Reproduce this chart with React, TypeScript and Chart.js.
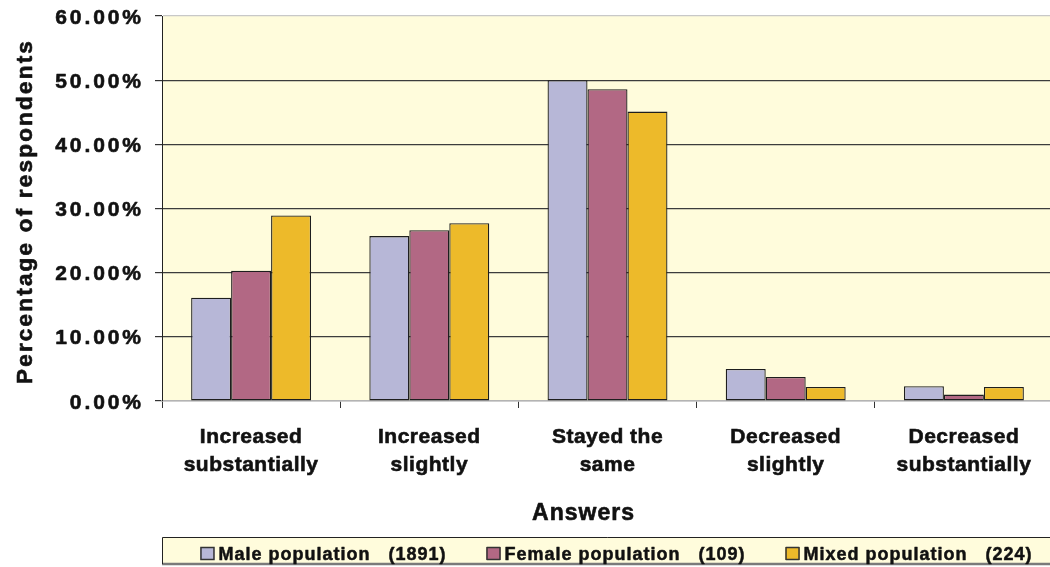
import React, { useEffect, useRef } from "react";
import { Chart, registerables } from "chart.js";

Chart.register(...registerables);

const categories: string[][] = [
  ["Increased", "substantially"],
  ["Increased", "slightly"],
  ["Stayed the", "same"],
  ["Decreased", "slightly"],
  ["Decreased", "substantially"],
];
const seriesLabels = [
  "Male population   (1891)",
  "Female population   (109)",
  "Mixed population   (224)",
];
const maleValues = [16.1, 25.7, 50.0, 5.0, 2.3];
const femaleValues = [20.3, 26.6, 48.6, 3.75, 1.0];
const mixedValues = [28.9, 27.7, 45.1, 2.2, 2.2];
const seriesColors = ["#B7B7D7", "#B26884", "#EDBA2A"];
const yTicks = [0, 10, 20, 30, 40, 50, 60];
const yTitle = "Percentage of respondents";
const xTitle = "Answers";

const FONT = "'Liberation Sans', Arial, sans-serif";
const PLOT_BG = "#FFFCDC";
const TEXT = "#111";

function heavyText(ctx: CanvasRenderingContext2D, s: string, x: number, y: number, w = 0.6) {
  ctx.lineJoin = "round";
  ctx.strokeStyle = TEXT;
  ctx.lineWidth = w;
  ctx.strokeText(s, x, y);
  ctx.fillText(s, x, y);
}

const customPlugin = {
  id: "customDecor",
  beforeDraw(chart: any) {
    const { ctx, chartArea } = chart;
    ctx.save();
    ctx.fillStyle = PLOT_BG;
    ctx.fillRect(chartArea.left, chartArea.top, chartArea.right - chartArea.left, chartArea.bottom - chartArea.top);
    ctx.restore();
    try {
      (ctx as any).letterSpacing = "0.5px";
    } catch (e) {}
  },
  afterDraw(chart: any) {
    const { ctx, chartArea } = chart;
    const yScale = chart.scales.y;
    // y tick labels
    ctx.save();
    (ctx as any).letterSpacing = "2.9px";
    ctx.font = `bold 21px ${FONT}`;
    ctx.fillStyle = TEXT;
    ctx.textAlign = "right";
    ctx.textBaseline = "alphabetic";
    yTicks.forEach((v) => {
      const py = yScale.getPixelForValue(v);
      heavyText(ctx, `${v.toFixed(2)}%`, chartArea.left - 21 + 2.9, py + 7.5);
    });
    ctx.restore();

    // y title
    ctx.save();
    (ctx as any).letterSpacing = "2.2px";
    ctx.font = `bold 22.5px ${FONT}`;
    ctx.fillStyle = TEXT;
    ctx.translate(31.5, (chartArea.top + chartArea.bottom) / 2 + 3);
    ctx.rotate(-Math.PI / 2);
    ctx.textAlign = "center";
    ctx.textBaseline = "alphabetic";
    heavyText(ctx, yTitle, 0, 0);
    ctx.restore();

    // x title
    ctx.save();
    (ctx as any).letterSpacing = "1px";
    ctx.font = `bold 23px ${FONT}`;
    ctx.fillStyle = TEXT;
    ctx.textAlign = "center";
    ctx.textBaseline = "alphabetic";
    heavyText(ctx, xTitle, (chartArea.left + chartArea.right) / 2 - 24, chartArea.bottom + 119);
    ctx.restore();

    // legend box
    const boxTop = chartArea.bottom + 136;
    const boxBottom = chartArea.bottom + 163;
    ctx.save();
    ctx.fillStyle = PLOT_BG;
    ctx.fillRect(chartArea.left, boxTop, chartArea.right - chartArea.left, boxBottom - boxTop);
    ctx.strokeStyle = "#7a7a7a";
    ctx.lineWidth = 2.5;
    ctx.beginPath();
    ctx.moveTo(chartArea.left, boxBottom);
    ctx.lineTo(chartArea.right, boxBottom);
    ctx.stroke();
    ctx.strokeStyle = "#222";
    ctx.lineWidth = 1;
    ctx.beginPath();
    ctx.moveTo(chartArea.left + 0.5, boxBottom);
    ctx.lineTo(chartArea.left + 0.5, boxTop + 0.5);
    ctx.lineTo(chartArea.right, boxTop + 0.5);
    ctx.stroke();

    // legend items
    (ctx as any).letterSpacing = "1px";
    ctx.font = `bold 18px ${FONT}`;
    ctx.textAlign = "left";
    ctx.textBaseline = "alphabetic";
    const sw = 14;
    const swGap = 4;
    const itemGap = 40;
    const datasets = chart.data.datasets;
    const widths = datasets.map((d: any) => ctx.measureText(d.label).width);
    let total = 0;
    widths.forEach((w: number, i: number) => {
      total += sw + swGap + w + (i < widths.length - 1 ? itemGap : 0);
    });
    let x = (chartArea.left + chartArea.right) / 2 + 9 - total / 2;
    const swTop = boxTop + 10;
    datasets.forEach((d: any, i: number) => {
      ctx.fillStyle = d.backgroundColor;
      ctx.fillRect(x, swTop, sw, 13);
      ctx.strokeStyle = "#333";
      ctx.lineWidth = 1.5;
      ctx.strokeRect(x + 0.5, swTop + 0.5, sw - 1, 12);
      ctx.fillStyle = TEXT;
      heavyText(ctx, d.label, x + sw + swGap, swTop + 13, 0.5);
      x += sw + swGap + widths[i] + itemGap;
    });
    ctx.restore();
  },
};

export default function App() {
  const canvasRef = useRef<HTMLCanvasElement | null>(null);

  useEffect(() => {
    document.body.style.margin = "0";
    document.body.style.overflow = "hidden";
    const canvas = canvasRef.current;
    if (!canvas) return;
    const chart = new Chart(canvas, {
      type: "bar",
      data: {
        labels: categories,
        datasets: [
          { label: seriesLabels[0], data: maleValues, backgroundColor: seriesColors[0] },
          { label: seriesLabels[1], data: femaleValues, backgroundColor: seriesColors[1] },
          { label: seriesLabels[2], data: mixedValues, backgroundColor: seriesColors[2] },
        ].map((d) => ({ ...d, borderColor: "#1e1e1e", borderWidth: 1.3, borderSkipped: false as any })),
      },
      options: {
        animation: false,
        responsive: false,
        maintainAspectRatio: false,
        layout: { padding: { top: 16, right: 0, bottom: 0, left: 0 } },
        datasets: {
          bar: { categoryPercentage: 0.673, barPercentage: 1 },
        },
        plugins: {
          legend: { display: false },
          tooltip: { enabled: false },
          title: { display: false },
        },
        scales: {
          x: {
            offset: true,
            grid: {
              offset: true,
              drawOnChartArea: false,
              drawTicks: true,
              tickLength: 7,
              tickColor: "#333",
            },
            border: { display: true, color: "#b4b4b4", width: 1.5 },
            ticks: {
              maxRotation: 0,
              minRotation: 0,
              autoSkip: false,
              padding: 15,
              color: TEXT,
              textStrokeColor: TEXT,
              textStrokeWidth: 0.6,
              font: { family: FONT, size: 21, weight: "bold", lineHeight: 1.35 },
            },
            afterFit: (s: any) => {
              s.height = 166;
            },
          },
          y: {
            min: 0,
            max: 60,
            ticks: { stepSize: 10, display: false },
            grid: {
              drawTicks: true,
              tickLength: 7,
              tickColor: "#333",
              lineWidth: 1.2,
              color: (c: any) => {
                const v = c.tick ? c.tick.value : null;
                if (v === 60) return "#c8c8c8";
                if (v === 0) return "#b4b4b4";
                return "#3c3c3c";
              },
            },
            border: { display: true, color: "#222", width: 1 },
            afterFit: (s: any) => {
              s.width = 162;
            },
          },
        },
      },
      plugins: [customPlugin],
    });
    return () => chart.destroy();
  }, []);

  return (
    <div style={{ position: "fixed", left: 0, top: 0, width: 1053, height: 567, background: "#fff" }}>
      <canvas ref={canvasRef} width={1053} height={567} style={{ display: "block" }} />
    </div>
  );
}
